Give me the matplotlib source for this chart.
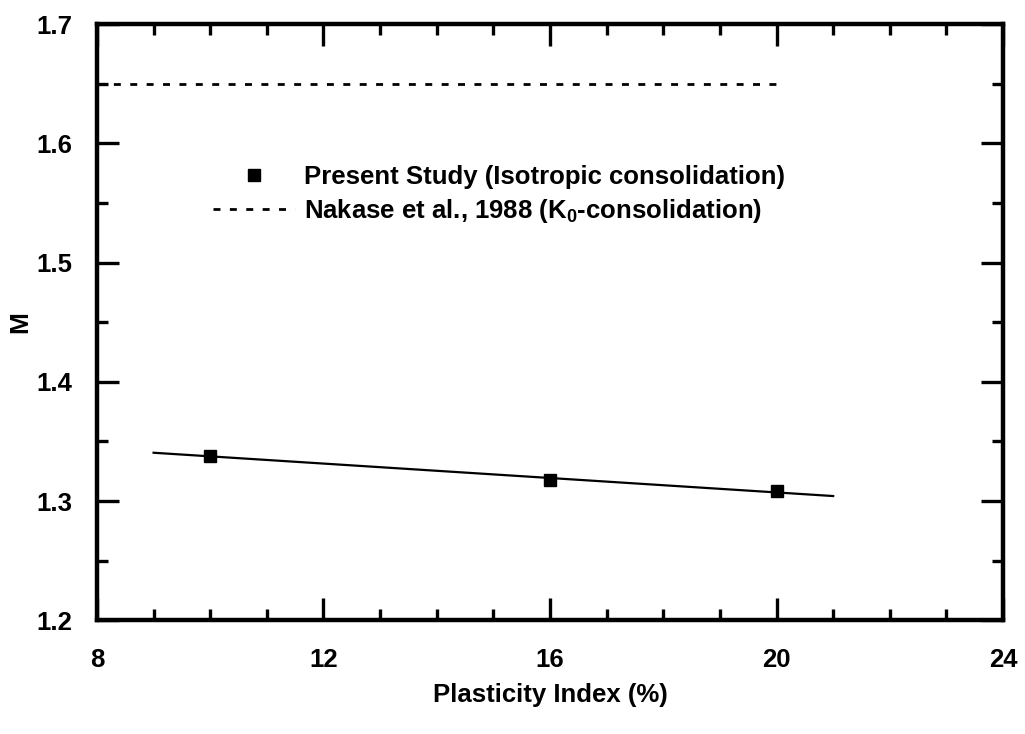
import numpy as np
import matplotlib
matplotlib.use("Agg")
import matplotlib.pyplot as plt
from matplotlib.ticker import MultipleLocator

plt.rcParams['font.family'] = ['Liberation Sans', 'DejaVu Sans']
plt.rcParams['font.weight'] = 'bold'
plt.rcParams['axes.labelweight'] = 'bold'
plt.rcParams['mathtext.fontset'] = 'custom'
plt.rcParams['mathtext.rm'] = 'Liberation Sans:bold'
plt.rcParams['mathtext.it'] = 'Liberation Sans:bold'
plt.rcParams['mathtext.default'] = 'rm'

# Present study: critical state slope M vs plasticity index
pi_values = [10, 16, 20]
m_values = [1.338, 1.318, 1.308]

# Fitted trend range
fit_x_range = [9, 21]

# Nakase et al. (1988), K0-consolidated reference level
nakase_x = [8, 20]
nakase_m = [1.65, 1.65]

x_ticks = [8, 12, 16, 20, 24]
y_ticks = [1.2, 1.3, 1.4, 1.5, 1.6, 1.7]

fig = plt.figure(figsize=(10.25, 7.34), dpi=100)
ax = fig.add_axes([0.0946, 0.155, 0.884, 0.812])

coef = np.polyfit(pi_values, m_values, 1)
fx = np.array(fit_x_range, dtype=float)
ax.plot(fx, np.polyval(coef, fx), color='black', lw=1.6, zorder=2)

ax.plot(pi_values, m_values, 's', color='black', ms=8.5, zorder=3,
        label='Present Study (Isotropic consolidation)')
ax.plot(nakase_x, nakase_m, color='black', lw=2.0, dashes=(2.5, 3.4),
        label='Nakase et al., 1988 (K$_0$-consolidation)')

ax.set_xlim(8, 24)
ax.set_ylim(1.2, 1.7)
ax.set_xticks(x_ticks)
ax.set_yticks(y_ticks)
ax.set_yticklabels([f"{v:.1f}" for v in y_ticks])
ax.xaxis.set_minor_locator(MultipleLocator(1))
ax.yaxis.set_minor_locator(MultipleLocator(0.05))

ax.tick_params(which='both', direction='in', top=True, right=True, width=2.4)
ax.tick_params(which='major', length=16, labelsize=18.5, pad=20)
ax.tick_params(which='minor', length=8)
ax.tick_params(axis='y', which='major', pad=18)
for s in ax.spines.values():
    s.set_linewidth(3.2)

ax.set_xlabel('Plasticity Index (%)', fontsize=18.5, labelpad=8)
ax.set_ylabel('M', fontsize=19, labelpad=3)

ax.legend(loc='upper left', bbox_to_anchor=(0.128, 0.764), frameon=False,
          fontsize=18.5, handlelength=3.2, handletextpad=0.35,
          labelspacing=0.33, borderpad=0, borderaxespad=0, markerscale=1.0)

fig.savefig('out.png', dpi=100)
